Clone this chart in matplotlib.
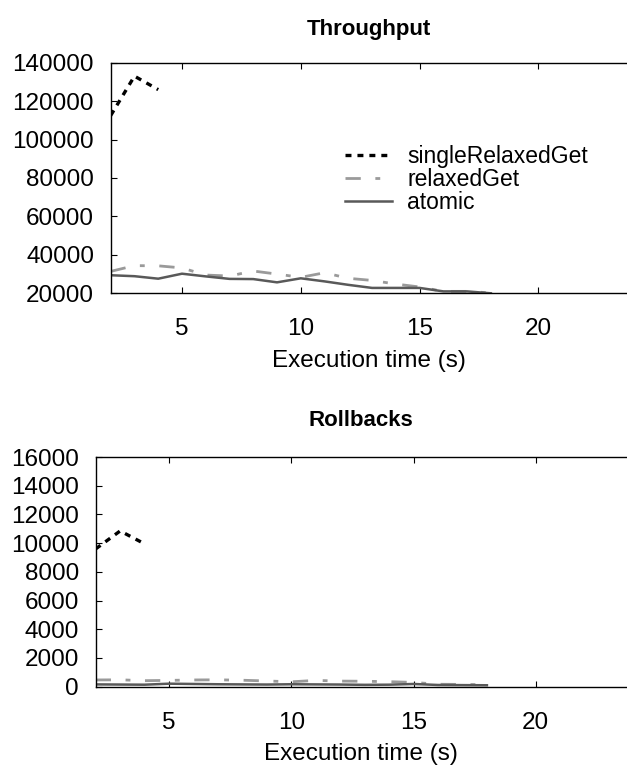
import numpy as np
import matplotlib
matplotlib.use('Agg')
import matplotlib.pyplot as plt

plt.rcParams['font.family'] = ['Liberation Sans', 'DejaVu Sans']
plt.rcParams['lines.scale_dashes'] = False

# execution time (s)
t_single = [2, 3, 4]
t_all = list(range(2, 19))

# Throughput
single_tp = [112500, 133000, 126000]
relaxed_tp = [31400, 34400, 34300, 33200, 29500, 29000, 31600, 30000, 28300,
              30700, 27800, 26700, 24800, 23300, 21000, 21000, 20200]
atomic_tp = [29400, 28900, 27600, 30200, 28800, 27500, 27400, 25700, 27800,
             26200, 24400, 22800, 22800, 22800, 21000, 21000, 20000]

# Rollbacks
single_rb = [9600, 10850, 9950]
relaxed_rb = [470, 480, 420, 440, 470, 480, 450, 400, 340, 440, 390, 380,
              350, 300, 170, 160, 140]
atomic_rb = [160, 150, 140, 210, 190, 170, 160, 150, 170, 160, 150, 130,
             140, 190, 120, 110, 100]

W, H = 627, 765
fig = plt.figure(figsize=(W / 100, H / 100), dpi=100)

ax1 = fig.add_axes([110.7 / W, 1 - 293.3 / H, 1 - 110.7 / W, 230.6 / H])
ax2 = fig.add_axes([95.7 / W, 1 - 686.7 / H, 1 - 95.7 / W, 229.7 / H])

styles = {
    'single': dict(color='black', lw=2.4, linestyle=(0, (4.3, 4.3))),
    'relaxed': dict(color='#9a9a9a', lw=2.0, linestyle=(0, (11, 10.5, 3.5, 10.5))),
    'atomic': dict(color='#595959', lw=1.8, linestyle='-'),
}


def draw(ax, single, relaxed, atomic, ylim, yticks, title, title_pad):
    ax.plot(t_single, single, label='singleRelaxedGet', **styles['single'])
    ax.plot(t_all, relaxed, label='relaxedGet', **styles['relaxed'])
    ax.plot(t_all, atomic, label='atomic', **styles['atomic'])
    ax.set_xlim(2, 23.73)
    ax.set_ylim(*ylim)
    ax.set_xticks([5, 10, 15, 20])
    ax.set_yticks(yticks)
    ax.tick_params(direction='in', length=4, width=0.8, top=True,
                   labelsize=17.5, colors='black')
    ax.tick_params(axis='x', pad=18)
    ax.tick_params(axis='y', pad=12)
    ax.spines['right'].set_visible(False)
    for s in ['left', 'top', 'bottom']:
        ax.spines[s].set_linewidth(1.0)
    ax.set_xlabel('Execution time (s)', fontsize=17.5, labelpad=7)
    ax.set_title(title, fontsize=16, fontweight='bold', pad=title_pad)


draw(ax1, single_tp, relaxed_tp, atomic_tp, (20000, 140000),
     np.arange(20000, 140001, 20000), 'Throughput', 20)
draw(ax2, single_rb, relaxed_rb, atomic_rb, (0, 16000),
     np.arange(0, 16001, 2000), 'Rollbacks', 22)

ax1.legend(loc='upper left', bbox_to_anchor=(345 / W, 1 - 145 / H),
           bbox_transform=fig.transFigure, frameon=False, fontsize=16.5,
           handlelength=2.05, handletextpad=0.66, labelspacing=0.0,
           borderpad=0, borderaxespad=0)

fig.savefig('out.png', dpi=100)
